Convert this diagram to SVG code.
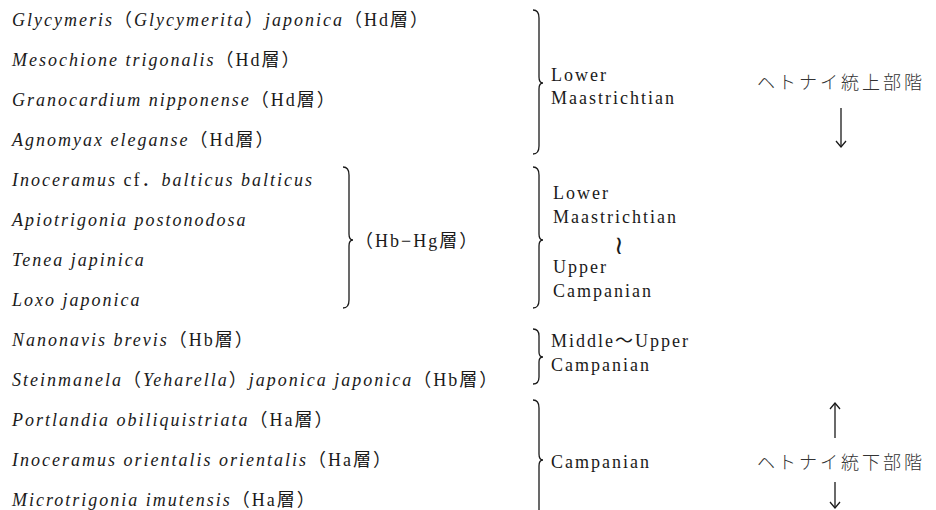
<svg xmlns="http://www.w3.org/2000/svg" width="936" height="510" viewBox="0 0 936 510">
<defs>
<style>
text{font-family:"Liberation Serif","Noto Sans CJK JP",serif;font-size:18px;letter-spacing:2px;fill:#1a1a1a}
.i{font-style:italic}
.jp{font-family:"Noto Sans CJK JP",sans-serif;font-size:18px;letter-spacing:3px;font-weight:300;fill:#333}
.br{fill:none;stroke:#1a1a1a;stroke-width:1.3}
.ar{fill:none;stroke:#1a1a1a;stroke-width:1.3}
</style>
<marker id="ah" viewBox="0 0 12 12" refX="11" refY="6" markerWidth="12" markerHeight="12" markerUnits="userSpaceOnUse" orient="auto">
<path d="M5,1 L11,6 L5,11" fill="none" stroke="#1a1a1a" stroke-width="1.3"/>
</marker>
</defs>
<rect width="936" height="510" fill="#fff"/>
<g id="species">
<g id="sp1"><text x="12" y="26"><tspan class="i">Glycymeris</tspan>（<tspan class="i">Glycymerita</tspan>）<tspan class="i">japonica</tspan>（Hd層）</text></g>
<g id="sp2"><text x="12" y="66"><tspan class="i">Mesochione trigonalis</tspan>（Hd層）</text></g>
<g id="sp3"><text x="12" y="106"><tspan class="i">Granocardium nipponense</tspan>（Hd層）</text></g>
<g id="sp4"><text x="12" y="146"><tspan class="i">Agnomyax eleganse</tspan>（Hd層）</text></g>
<g id="sp5"><text x="12" y="186"><tspan class="i">Inoceramus</tspan> cf．<tspan class="i">balticus balticus</tspan></text></g>
<g id="sp6"><text x="12" y="226"><tspan class="i">Apiotrigonia postonodosa</tspan></text></g>
<g id="sp7"><text x="12" y="266"><tspan class="i">Tenea japinica</tspan></text></g>
<g id="sp8"><text x="12" y="306"><tspan class="i">Loxo japonica</tspan></text></g>
<g id="sp9"><text x="12" y="346"><tspan class="i">Nanonavis brevis</tspan>（Hb層）</text></g>
<g id="sp10"><text x="12" y="386"><tspan class="i">Steinmanela</tspan>（<tspan class="i">Yeharella</tspan>）<tspan class="i">japonica japonica</tspan>（Hb層）</text></g>
<g id="sp11"><text x="12" y="426"><tspan class="i">Portlandia obiliquistriata</tspan>（Ha層）</text></g>
<g id="sp12"><text x="12" y="466"><tspan class="i">Inoceramus orientalis orientalis</tspan>（Ha層）</text></g>
<g id="sp13"><text x="12" y="506"><tspan class="i">Microtrigonia imutensis</tspan>（Ha層）</text></g>
</g>
<g id="hbhg"><text x="355" y="247">（Hb−Hg層）</text></g>
<g id="age1"><text x="551" y="81">Lower</text><text x="551" y="104">Maastrichtian</text></g>
<g id="age2"><text x="553" y="199">Lower</text><text x="553" y="223">Maastrichtian</text><text x="614" y="254" style="font-family:'DejaVu Serif',serif;font-size:26px;letter-spacing:0">≀</text><text x="553" y="273">Upper</text><text x="553" y="297">Campanian</text></g>
<g id="age3"><text x="551" y="347">Middle～Upper</text><text x="551" y="371">Campanian</text></g>
<g id="age4"><text x="551" y="468">Campanian</text></g>
<g id="upper"><text class="jp" x="757" y="89">ヘトナイ統上部階</text></g>
<g id="lower"><text class="jp" x="757" y="469">ヘトナイ統下部階</text></g>
<g id="connectors">
<path class="br" d="M533,10 Q539,10 539,18 L539,77 Q539,83 543,83 Q539,83 539,89 L539,146 Q539,154 533,154"/>
<path class="br" d="M343,167 Q349,167 349,175 L349,234 Q349,240 353,240 Q349,240 349,246 L349,300 Q349,308 343,308"/>
<path class="br" d="M533,167 Q539,167 539,175 L539,234 Q539,240 543,240 Q539,240 539,246 L539,300 Q539,308 533,308"/>
<path class="br" d="M533,329 Q539,329 539,336 L539,352 Q539,357 543,357 Q539,357 539,362 L539,377 Q539,384 533,384"/>
<path class="br" d="M533,400 Q539,400 539,408 L539,454 Q539,460 543,460 Q539,460 539,466 L539,512"/>
<path class="ar" d="M841,108 L841,147" marker-end="url(#ah)"/>
<path class="ar" d="M835,438 L835,403" marker-end="url(#ah)"/>
<path class="ar" d="M835,482 L835,508" marker-end="url(#ah)"/>
</g>
</svg>
